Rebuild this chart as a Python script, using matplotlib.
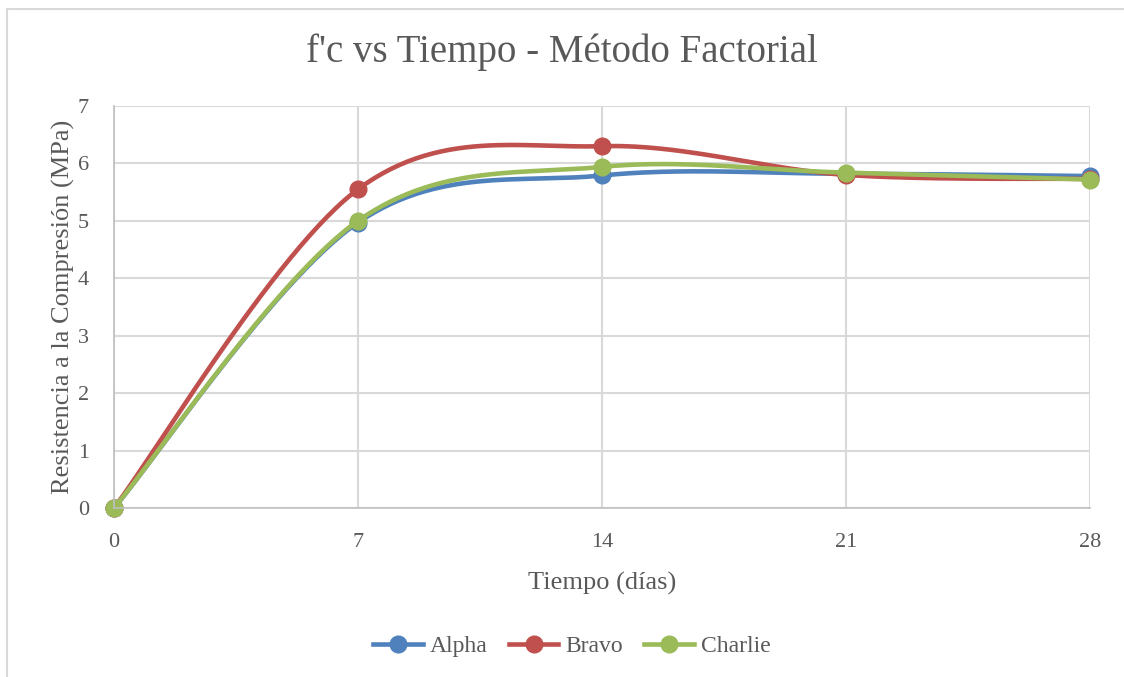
import numpy as np
import matplotlib
matplotlib.use("Agg")
import matplotlib.pyplot as plt
from matplotlib.patches import Rectangle

# Curing age (days) and compressive strength (MPa) per mix
dias = [0, 7, 14, 21, 28]
alpha = [0.0, 4.97, 5.79, 5.82, 5.78]
bravo = [0.0, 5.55, 6.30, 5.80, 5.73]
charlie = [0.0, 5.00, 5.94, 5.84, 5.72]
series_names = ["Alpha", "Bravo", "Charlie"]
x_ticks = [0, 7, 14, 21, 28]
y_ticks = [0, 1, 2, 3, 4, 5, 6, 7]

colors = ["#4F81BD", "#C0504D", "#9BBB59"]
text_color = "#595959"
grid_color = "#D9D9D9"
font = ["Liberation Serif", "DejaVu Serif"]


def smooth(x, y, n=60):
    """Catmull-Rom style smoothing (as used for smoothed spreadsheet lines)."""
    x = np.asarray(x, float)
    y = np.asarray(y, float)
    px = np.concatenate([[x[0]], x, [x[-1]]])
    py = np.concatenate([[y[0]], y, [y[-1]]])
    xs, ys = [], []
    t = np.linspace(0, 1, n)
    for i in range(1, len(px) - 2):
        p0 = np.array([px[i], py[i]])
        p3 = np.array([px[i + 1], py[i + 1]])
        c1 = p0 + (np.array([px[i + 1], py[i + 1]]) - np.array([px[i - 1], py[i - 1]])) / 6
        c2 = p3 - (np.array([px[i + 2], py[i + 2]]) - np.array([px[i], py[i]])) / 6
        b = ((1 - t) ** 3)[:, None] * p0 + (3 * (1 - t) ** 2 * t)[:, None] * c1 \
            + (3 * (1 - t) * t ** 2)[:, None] * c2 + (t ** 3)[:, None] * p3
        xs.append(b[:, 0])
        ys.append(b[:, 1])
    return np.concatenate(xs), np.concatenate(ys)


fig = plt.figure(figsize=(11.24, 6.77), dpi=100)
fig.patch.set_facecolor("white")

# outer chart frame
fig.patches.append(Rectangle((7 / 1124, -0.01), 1.02, 1 - 9 / 677 + 0.01,
                             transform=fig.transFigure, fill=False,
                             edgecolor="#D9D9D9", linewidth=1.5))

ax = fig.add_axes([114 / 1124, 1 - 508 / 677, (1090 - 114) / 1124, (508 - 106) / 677])
ax.set_xlim(0, 28)
ax.set_ylim(0, 7)
ax.set_xticks(x_ticks)
ax.set_yticks(y_ticks)
ax.grid(True, color=grid_color, linewidth=1.5)
ax.set_axisbelow(True)
for side in ["top", "right"]:
    ax.spines[side].set_visible(False)
for side in ["left", "bottom"]:
    ax.spines[side].set_color("#BFBFBF")
    ax.spines[side].set_linewidth(1.2)
ax.tick_params(length=0, colors=text_color, labelsize=16)
ax.tick_params(axis="y", pad=18)
ax.tick_params(axis="x", pad=18)
for lab in ax.get_xticklabels() + ax.get_yticklabels():
    lab.set_fontfamily(font)

for vals, name, col in zip([alpha, bravo, charlie], series_names, colors):
    sx, sy = smooth(dias, vals)
    ax.plot(sx, sy, color=col, linewidth=3.3, solid_capstyle="round", clip_on=False)
    ax.plot(dias, vals, linestyle="none", marker="o", markersize=12,
            color=col, clip_on=False)
    ax.plot([], [], color=col, linewidth=3.3, marker="o", markersize=12, label=name)

ax.set_xlabel("Tiempo (días)", fontsize=19, color=text_color, family=font, labelpad=14)
ax.set_ylabel("Resistencia a la Compresión (MPa)", fontsize=19, color=text_color,
              family=font, labelpad=2)

fig.text(0.5, 1 - 52 / 677, "f'c vs Tiempo - Método Factorial", ha="center", va="center",
         fontsize=28, color=text_color, family=font)

leg = ax.legend(loc="center", bbox_to_anchor=((572 - 114) / (1090 - 114), (508 - 646) / (508 - 106)),
                ncol=3, frameon=False, handlelength=2.1, columnspacing=0.9,
                handletextpad=0.3, prop={"family": font, "size": 17})
for t in leg.get_texts():
    t.set_color(text_color)

fig.savefig("out.png", dpi=100)
